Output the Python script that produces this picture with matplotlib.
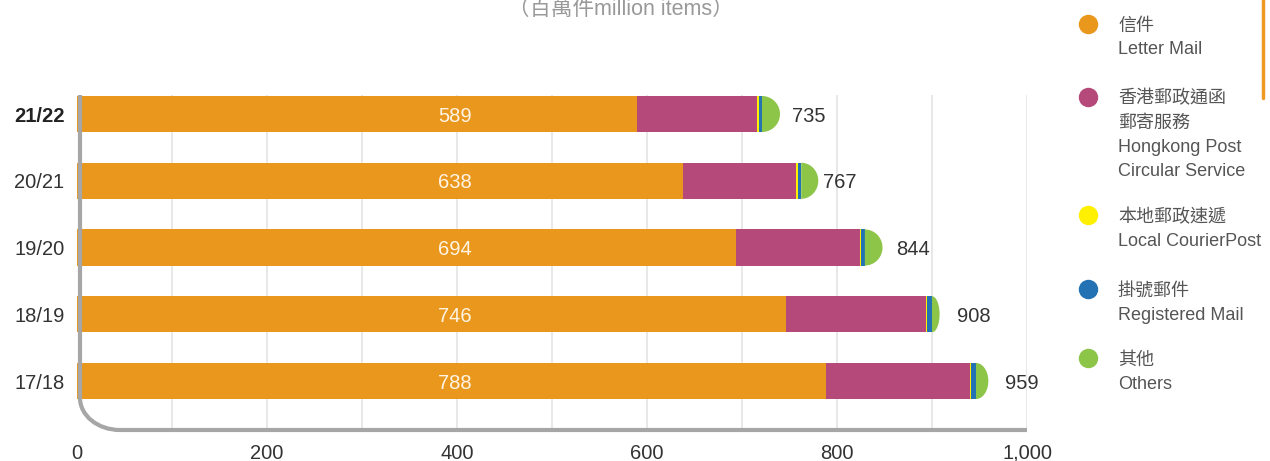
import matplotlib
matplotlib.use("Agg")
import matplotlib.pyplot as plt
import numpy as np
from matplotlib.patches import Polygon, PathPatch
from matplotlib.path import Path
from matplotlib.lines import Line2D

plt.rcParams['font.family'] = ['Liberation Sans', 'Noto Sans CJK TC', 'DejaVu Sans']

# ---- data ----
years = ["17/18", "18/19", "19/20", "20/21", "21/22"]
letter_mail = [788, 746, 694, 638, 589]
circular = [152, 148, 130, 119, 127]
courierpost = [1.4, 1.0, 1.4, 1.8, 1.8]
registered = [4.9, 5.0, 3.9, 3.5, 3.2]
others = [13, 8, 18.6, 18, 19]
totals = [959, 908, 844, 767, 735]

legend_labels = [
    ["信件", "Letter Mail"],
    ["香港郵政通函", "郵寄服務", "Hongkong Post", "Circular Service"],
    ["本地郵政速遞", "Local CourierPost"],
    ["掛號郵件", "Registered Mail"],
    ["其他", "Others"],
]
colors = ["#E9981D", "#B54A7A", "#FFF000", "#2272B4", "#8DC549"]
xticks = [0, 200, 400, 600, 800, 1000]
xtick_labels = ["0", "200", "400", "600", "800", "1,000"]

W, H = 1270, 461
fig = plt.figure(figsize=(W / 100, H / 100), dpi=100)
ax_l, ax_r, ax_t, ax_b = 77, 1027, 95, 430
ax = fig.add_axes([ax_l / W, (H - ax_b) / H, (ax_r - ax_l) / W, (ax_b - ax_t) / H])

ypos = np.arange(len(years))
bh = 0.54
ax.set_xlim(0, 1000)
ax.set_ylim(-0.734, 4.285)

# grid
for gx in range(100, 1001, 100):
    ax.axvline(gx, color="#E6E6E6", lw=1.3, zorder=0)

# stacked bars
left = np.zeros(len(years))
for vals, c in zip([letter_mail, circular, courierpost, registered], colors[:4]):
    ax.barh(ypos, vals, left=left, height=bh, color=c, edgecolor="none", zorder=2)
    left = left + np.array(vals)

# green half-ellipse caps
t = np.linspace(-np.pi / 2, np.pi / 2, 60)
for y, x0, w in zip(ypos, left, others):
    pts = np.column_stack([x0 + w * np.cos(t), y + bh / 2 * np.sin(t)])
    ax.add_patch(Polygon(pts, closed=True, facecolor=colors[4], edgecolor="none", zorder=2))

# labels
for y, lm, tot in zip(ypos, letter_mail, totals):
    ax.text(398, y, str(lm), ha="center", va="center_baseline", color="#FFF4E4",
            fontsize=14.5, zorder=3)
    ax.text(tot + 18, y, str(tot), ha="left", va="center_baseline", color="#333333",
            fontsize=14.5, zorder=3)

ax.set_yticks(ypos)
ax.set_yticklabels(years)
for lbl in ax.get_yticklabels():
    lbl.set_fontsize(14.5)
    lbl.set_color("#333333")
    lbl.set_va("center_baseline")
    if lbl.get_text() == "21/22":
        lbl.set_fontweight("bold")
        lbl.set_color("#222222")
ax.set_xticks(xticks)
ax.set_xticklabels(xtick_labels, fontsize=14.5, color="#333333")
ax.tick_params(axis="x", length=0, pad=10)
ax.tick_params(axis="y", length=0, pad=9)
for s in ax.spines.values():
    s.set_visible(False)

# rounded frame (left + bottom)
aw, ahh = ax_r - ax_l, ax_b - ax_t
fx0 = 3 / aw
fyc = 32 / ahh
fxc = 43 / aw
k = 0.5523
verts = [(fx0, 1.0), (fx0, fyc),
         (fx0, fyc * (1 - k)), (fx0 + (fxc - fx0) * (1 - k), 0.0), (fxc, 0.0),
         (1.0, 0.0)]
codes = [Path.MOVETO, Path.LINETO, Path.CURVE4, Path.CURVE4, Path.CURVE4, Path.LINETO]
ax.add_patch(PathPatch(Path(verts, codes), transform=ax.transAxes, facecolor="none",
                       edgecolor="#A6A6A6", lw=3, clip_on=False, zorder=4))

# title
fig.text(621 / W, (H - 15) / H, "（百萬件million items）", ha="center", va="baseline",
         fontsize=15.5, color="#999999")

# legend
item_y = [24, 97, 215, 289, 358]
for c, yy, lines in zip(colors, item_y, legend_labels):
    fig.add_artist(Line2D([1088 / W], [(H - yy) / H], marker="o", markersize=14,
                          color=c, markeredgecolor="none", linestyle="none"))
    for i, line in enumerate(lines):
        fig.text(1118 / W, (H - yy - i * 24) / H, line, ha="left", va="center_baseline",
                 fontsize=13, color="#555555")

# orange accent line
fig.add_artist(Line2D([1263 / W, 1263 / W], [1.0, (H - 98) / H], color="#EE9A22",
                      lw=2.5, solid_capstyle="round"))

fig.savefig("out.png", dpi=100)
